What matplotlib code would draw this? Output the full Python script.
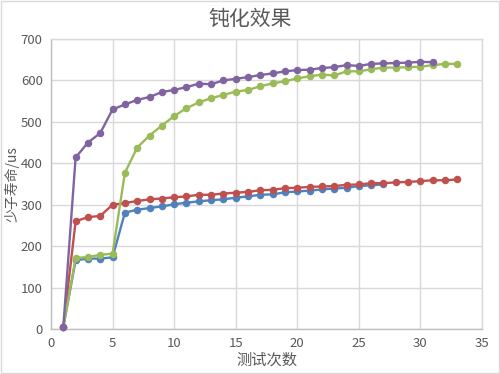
import matplotlib
matplotlib.use("Agg")
import matplotlib.pyplot as plt
from matplotlib.patches import Rectangle

plt.rcParams['font.family'] = ['Noto Sans CJK SC', 'DejaVu Sans']

# test index for each series
x_blue = list(range(1, 28))
x_red = list(range(1, 34))
x_green = list(range(1, 34))
x_purple = list(range(1, 32))

blue = [5, 166, 170, 170, 173, 281, 288, 292, 296, 301, 305, 308, 311, 313, 317,
        320, 324, 325, 330, 332, 334, 337, 339, 341, 345, 347, 349]
red = [5, 260, 270, 273, 300, 304, 309, 313, 315, 318, 320, 324, 324, 327, 329,
       331, 335, 336, 340, 341, 343, 344, 345, 348, 349, 352, 352, 354, 355, 357,
       359, 359, 361]
green = [5, 171, 174, 179, 182, 377, 438, 467, 491, 514, 533, 547, 557, 565, 573,
         577, 586, 593, 598, 605, 610, 614, 612, 622, 622, 627, 631, 631, 632, 633,
         637, 640, 640]
purple = [5, 414, 450, 473, 530, 542, 553, 560, 572, 577, 584, 592, 591, 600, 604,
          608, 613, 617, 622, 625, 626, 630, 632, 637, 635, 640, 641, 642, 643, 645,
          644]

colors = ['#4F81BD', '#C0504D', '#9BBB59', '#8064A2']
text_color = '#595959'
grid_color = '#D9D9D9'

fig = plt.figure(figsize=(5, 3.74), dpi=100)
ax = fig.add_axes([0.102, 0.1203, 0.862, 0.7754])

for xs, ys, c in zip([x_blue, x_red, x_green, x_purple],
                     [blue, red, green, purple], colors):
    ax.plot(xs, ys, color=c, linewidth=1.7, marker='o', markersize=5.4,
            markeredgewidth=0, clip_on=False, zorder=3)

ax.set_xlim(0, 35)
ax.set_ylim(0, 700)
ax.set_xticks(range(0, 36, 5))
ax.set_yticks(range(0, 701, 100))
ax.grid(True, color=grid_color, linewidth=1)
ax.set_axisbelow(True)
for side in ['left', 'bottom', 'right', 'top']:
    ax.spines[side].set_color(grid_color)
    ax.spines[side].set_linewidth(1)
ax.spines['left'].set_color('#BFBFBF')
ax.spines['bottom'].set_color('#BFBFBF')
ax.tick_params(length=0, labelsize=9.5, colors=text_color, pad=6)

# chart title is centred on the whole figure, not the plot area
fig.suptitle('钝化效果', fontsize=15, color=text_color, x=0.5, y=0.948, va='center')
ax.set_xlabel('测试次数', fontsize=11, color=text_color, labelpad=1)
ax.set_ylabel('少子寿命/us', fontsize=10, color=text_color)
ax.yaxis.label.set_va('center')
ax.yaxis.set_label_coords(-0.09, 0.5)

fig.patches.append(Rectangle((0.002, 0.003), 0.996, 0.994, transform=fig.transFigure,
                             fill=False, edgecolor='#D9D9D9', linewidth=1))

fig.savefig('out.png', dpi=100)
